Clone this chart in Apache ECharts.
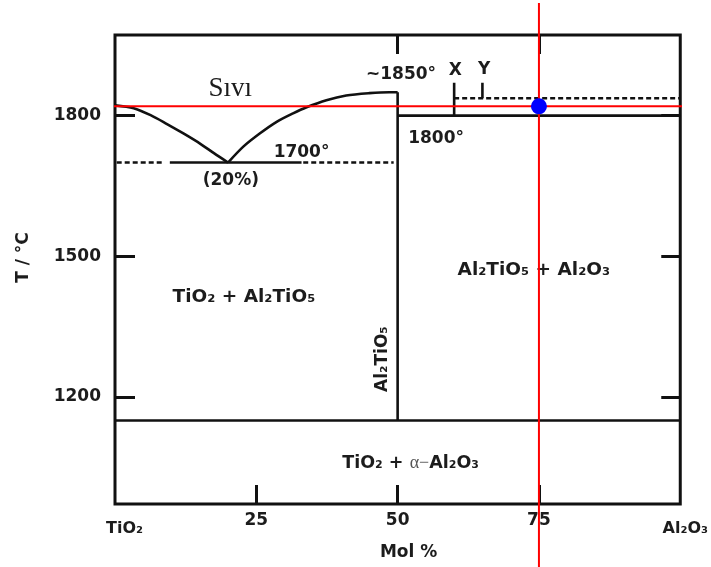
<!DOCTYPE html>
<html>
<head>
<meta charset="utf-8">
<script src="https://cdn.jsdelivr.net/npm/echarts@6/dist/echarts.min.js"></script>
<style>
  html, body { margin: 0; padding: 0; background: #ffffff; }
  #chart { width: 711px; height: 567px; }
</style>
</head>
<body>
<div id="chart"></div>
<script>
// Composition axis (mol %) and temperature axis
const xTickValues = [0, 25, 50, 75, 100];
const xTickLabels = ['TiO₂', '25', '50', '75', 'Al₂O₃'];
const xBottomTicks = [25, 50, 75];
const xTopTicks = [50, 75];
const yTickValues = [1200, 1500, 1800];

// Liquidus branches meeting at the eutectic (20 %, 1700 °C)
const liquidusTiO2 = [[0, 1822], [3.3, 1816], [6.3, 1801], [9.2, 1782], [12.1, 1762], [15.1, 1740], [17.5, 1720], [20, 1700]];
const liquidusAT = [[20, 1700], [22.7, 1734], [25.6, 1762], [28.6, 1787], [31.5, 1805], [33.9, 1818], [37.4, 1833], [40.9, 1843], [45, 1848], [48.5, 1850], [50, 1850]];

// Eutectic isotherm: dashed, solid, dashed pieces
const eutecticDashL = [[0.3, 1700], [8.5, 1700]];
const eutecticSolid = [[9.7, 1700], [33, 1700]];
const eutecticDashR = [[33.3, 1700], [49.3, 1700]];

// Al2TiO5 line, 1800 isotherm and the lower decomposition isotherm
const compoundLine = [[50, 1850], [50, 1150]];
const isotherm1800 = [[50, 1800], [100, 1800]];
const decomposition = [[0, 1150], [100, 1150]];

// X and Y markers with their dashed line
const markerX = [[60, 1870], [60, 1800]];
const markerY = [[65, 1870], [65, 1837]];
const xyDashed = [[60, 1837], [100, 1837]];

// Crosshair and the selected state point
const crossH = [[-13.7, 1820], [104.4, 1820]];
const crossV = [[75, 2040], [75, 830]];
const statePoint = [[75, 1820]];

const SANS = 'DejaVu Sans';
const INK = '#1c1c1c';

// Text annotations placed in data coordinates
const notes = [
  { text: 'Sıvı', at: [20.4, 1858], font: 'Liberation Serif', size: 27, weight: 'normal' },
  { text: '~1850°', at: [50.6, 1888] },
  { text: 'X', at: [60.2, 1897] },
  { text: 'Y', at: [65.3, 1899] },
  { text: '1800°', at: [56.8, 1751] },
  { text: '1700°', at: [33.0, 1721] },
  { text: '(20%)', at: [20.5, 1661] },
  { text: 'TiO₂ + Al₂TiO₅', at: [22.8, 1413], size: 18.5 },
  { text: 'Al₂TiO₅ + Al₂O₃', at: [74.1, 1471], size: 18.5 },
  { text: 'Al₂TiO₅', at: [47.3, 1281], rotate: 90 },
  { text: '{b|TiO₂ + }{a|α−}{b|Al₂O₃}', at: [52.3, 1059] }
];

function seg(data, extra) {
  extra = extra || {};
  return {
    type: 'line',
    data: data,
    symbol: 'none',
    silent: true,
    animation: false,
    smooth: extra.smooth || false,
    clip: extra.clip === undefined ? true : extra.clip,
    z: extra.z || 2,
    lineStyle: {
      color: extra.color || '#111111',
      width: extra.width || 2.6,
      type: extra.dash || 'solid',
      opacity: 1
    }
  };
}

const chart = echarts.init(document.getElementById('chart'), null, { renderer: 'canvas' });

const tickStyle = { color: '#111111', width: 3 };

const option = {
  backgroundColor: '#ffffff',
  animation: false,
  grid: {
    left: 115, right: 29, top: 35, bottom: 63,
    show: true, borderColor: '#111111', borderWidth: 3, backgroundColor: 'transparent'
  },
  xAxis: [
    {
      type: 'value', min: 0, max: 100, position: 'bottom',
      name: 'Mol %', nameLocation: 'middle', nameGap: 40,
      nameTextStyle: { fontFamily: SANS, fontWeight: 'bold', fontSize: 17, color: INK, padding: [0, 0, 0, 22] },
      axisLine: { show: false, onZero: false },
      splitLine: { show: false },
      axisTick: { show: true, inside: true, length: 19, customValues: xBottomTicks, lineStyle: tickStyle },
      axisLabel: {
        show: true, margin: 8, customValues: xTickValues,
        fontFamily: SANS, fontWeight: 'bold', fontSize: 17, color: INK,
        formatter: function (v) {
          const i = xTickValues.indexOf(v);
          const s = xTickLabels[i];
          if (i === 0) return '{l|' + s + '}';
          if (i === xTickValues.length - 1) return '{r|' + s + '}';
          return s;
        },
        rich: {
          l: { fontFamily: SANS, fontWeight: 'bold', fontSize: 16, color: INK, padding: [9, 0, 0, 19] },
          r: { fontFamily: SANS, fontWeight: 'bold', fontSize: 16, color: INK, padding: [9, 0, 0, 10] }
        }
      }
    },
    {
      type: 'value', min: 0, max: 100, position: 'top',
      axisLine: { show: false, onZero: false }, splitLine: { show: false }, axisLabel: { show: false },
      axisTick: { show: true, inside: true, length: 19, customValues: xTopTicks, lineStyle: tickStyle }
    }
  ],
  yAxis: [
    {
      type: 'value', min: 972, max: 1972, position: 'left',
      name: 'T / °C', nameLocation: 'middle', nameGap: 83,
      nameTextStyle: { fontFamily: SANS, fontWeight: 'bold', fontSize: 17, color: INK, padding: [0, 0, 0, 24] },
      axisLine: { show: false, onZero: false }, splitLine: { show: false },
      axisTick: { show: true, inside: true, length: 20, customValues: yTickValues, lineStyle: tickStyle },
      axisLabel: {
        show: true, margin: 14, customValues: yTickValues,
        fontFamily: SANS, fontWeight: 'bold', fontSize: 17, color: INK,
        formatter: function (v) { return String(v); }
      }
    },
    {
      type: 'value', min: 972, max: 1972, position: 'right',
      axisLine: { show: false, onZero: false }, splitLine: { show: false }, axisLabel: { show: false },
      axisTick: { show: true, inside: true, length: 19, customValues: yTickValues, lineStyle: tickStyle }
    }
  ],
  series: [
    seg(liquidusTiO2, { smooth: 0.3 }),
    seg(liquidusAT, { smooth: 0.3 }),
    seg(eutecticDashL, { dash: [5, 3] }),
    seg(eutecticSolid),
    seg(eutecticDashR, { dash: [5, 3] }),
    seg(compoundLine),
    seg(isotherm1800),
    seg(decomposition),
    seg(markerX),
    seg(markerY),
    seg(xyDashed, { dash: [5, 3] }),
    {
      type: 'scatter', silent: true, animation: false, z: 5,
      symbolSize: 0,
      itemStyle: { opacity: 1 },
      data: notes.map(function (n) {
        return {
          value: n.at,
          label: {
            show: true, position: 'inside', formatter: n.text,
            rotate: n.rotate || 0, opacity: 1,
            fontFamily: n.font || SANS, fontWeight: n.weight || 'bold',
            fontSize: n.size || 17, color: INK,
            rich: {
              b: { fontFamily: SANS, fontWeight: 'bold', fontSize: 17.5, color: INK },
              a: { fontFamily: 'Liberation Serif', fontWeight: 'normal', fontSize: 18, color: '#555555' }
            }
          }
        };
      })
    },
    seg(crossH, { color: '#ff0000', width: 2, clip: false, z: 8 }),
    seg(crossV, { color: '#ff0000', width: 2, clip: false, z: 8 }),
    {
      type: 'scatter', silent: true, animation: false, z: 10, clip: false,
      symbol: 'circle', symbolSize: 16,
      itemStyle: { color: '#0000ff', opacity: 1 },
      data: statePoint
    }
  ]
};

chart.setOption(option);
</script>
</body>
</html>
